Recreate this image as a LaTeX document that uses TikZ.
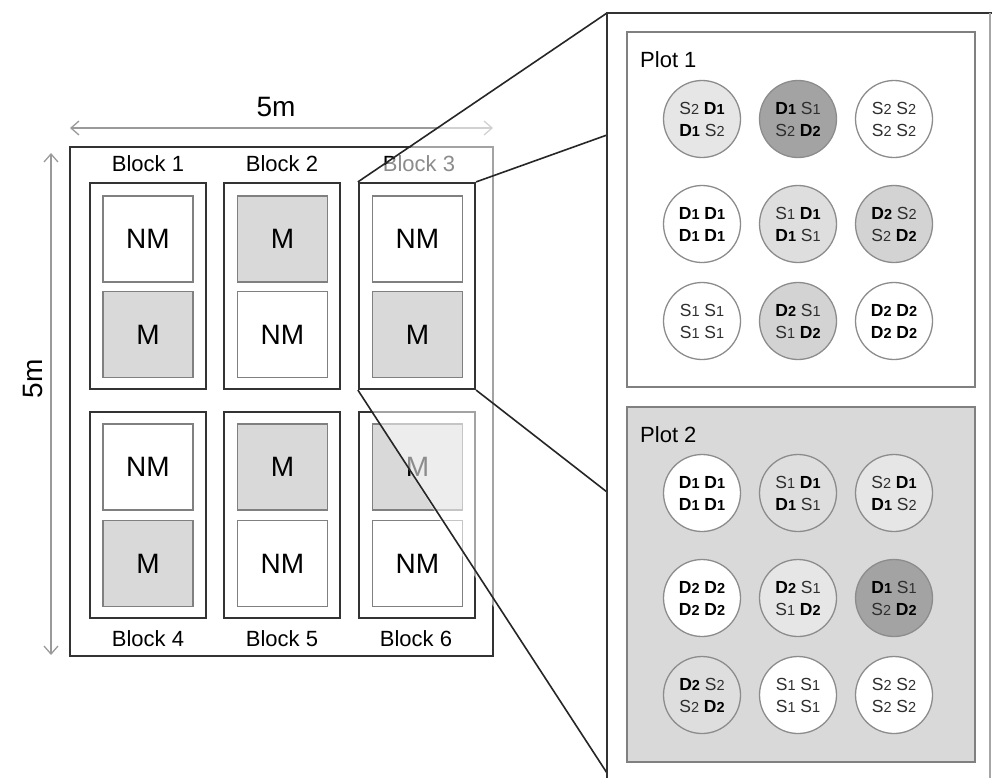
\documentclass[tikz,border=0pt]{standalone}
\usepackage{fontspec}
\setmainfont{Liberation Sans}
\usetikzlibrary{arrows.meta}
\definecolor{mgray}{HTML}{D9D9D9}
\definecolor{bdark}{HTML}{333333}
\definecolor{pgray}{HTML}{808080}
\definecolor{cgray}{HTML}{8C8C8C}
\definecolor{sgray}{HTML}{2E2E2E}
\definecolor{cwhite}{HTML}{FFFFFF}
\definecolor{clight}{HTML}{E6E6E6}
\definecolor{clmed}{HTML}{DEDEDE}
\definecolor{cmed}{HTML}{D3D3D3}
\definecolor{cdark}{HTML}{A3A3A3}
\definecolor{arrgray}{HTML}{9A9A9A}
\newcommand\sgeno[1]{\textcolor{sgray}{S{\fontsize{14.5}{14.5}\selectfont #1}}}
\newcommand\dgeno[1]{\textbf{D{\fontsize{14.5}{14.5}\selectfont\bfseries #1}}}
\begin{document}
\begin{tikzpicture}[x=1pt,y=-1pt,
  fieldbox/.style={draw=bdark, line width=2pt, minimum width=423pt, minimum height=509pt, inner sep=0pt},
  blockbox/.style={draw=bdark, line width=2.2pt, fill=white, minimum width=116pt, minimum height=206pt, inner sep=0pt},
  plotbase/.style={draw=pgray, line width=1.6pt, minimum width=90pt, minimum height=86pt, inner sep=0pt, font=\fontsize{28}{28}\selectfont},
  plotM/.style={plotbase, fill=mgray},
  plotNM/.style={plotbase, fill=white},
  blabel/.style={font=\fontsize{22}{22}\selectfont, inner sep=0pt},
  dimarrow/.style={draw=arrgray, line width=1.3pt, {Straight Barb[length=8pt,width=14pt]}-{Straight Barb[length=8pt,width=14pt]}},
  zoomline/.style={draw=black!85, line width=1.6pt},
  geno/.style={circle, draw=cgray, line width=1.3pt, minimum size=77pt, inner sep=0pt, align=center, font=\fontsize{17.5}{22}\selectfont},
  plotpanel/.style={draw=pgray, line width=1.6pt, minimum width=348pt, minimum height=355pt, inner sep=0pt},
  plabel/.style={font=\fontsize{22}{22}\selectfont, inner sep=0pt, anchor=west}
]
\useasboundingbox (0,0) rectangle (992,777);

% field
\node[fieldbox] (field) at (281.5,401.5) {};
\coordinate (hL) at (70,128);
\coordinate (hR) at (493,128);
\draw[dimarrow] (hL) -- (hR);
\node[font=\fontsize{28}{28}\selectfont, inner sep=0pt] (dimH) at (276,107) {5m};
\coordinate (vT) at (51,153);
\coordinate (vB) at (51,655);
\draw[dimarrow] (vT) -- (vB);
\node[font=\fontsize{28}{28}\selectfont, inner sep=0pt, rotate=90] (dimV) at (33,379) {5m};

% block labels
\node[blabel] (l1) at (148,164) {Block 1};
\node[blabel] (l2) at (282,164) {Block 2};
\node[blabel] (l3) at (419,164) {Block 3};
\node[blabel] (l4) at (148,639) {Block 4};
\node[blabel] (l5) at (282,639) {Block 5};
\node[blabel] (l6) at (416,639) {Block 6};

% blocks
\node[blockbox] (b1) at (148,286) {};
\node[plotNM] (b1u) at (148,239) {NM};
\node[plotM] (b1l) at (148,334.5) {M};
\node[blockbox] (b2) at (282,286) {};
\node[plotM] (b2u) at (282.5,239) {M};
\node[plotNM] (b2l) at (282.5,334.5) {NM};

\node[blockbox] (b4) at (148,515) {};
\node[plotNM] (b4u) at (148,467) {NM};
\node[plotM] (b4l) at (148,563.5) {M};
\node[blockbox] (b5) at (282,515) {};
\node[plotM] (b5u) at (282.5,467) {M};
\node[plotNM] (b5l) at (282.5,563.5) {NM};
\node[blockbox] (b6) at (417,515) {};
\node[plotM] (b6u) at (417.5,467) {M};
\node[plotNM] (b6l) at (417.5,563.5) {NM};

% panel corner points
\coordinate (pTL) at (607,13);
\coordinate (pA) at (607,135);
\coordinate (pB) at (607,492);
\coordinate (pC) at (607,773);
\coordinate (pBot) at (607,790);
\coordinate (pTR) at (995,13);

% fading overlay
\fill[white, opacity=0.55] (359,183) -- (pTL) -- (pBot) -- (359,389) -- cycle;

% block 3 on top
\node[blockbox] (b3) at (417,286) {};
\node[plotNM] (b3u) at (417.5,239) {NM};
\node[plotM] (b3l) at (417.5,334.5) {M};

% zoom lines
\draw[zoomline] (b3.north west) -- (pTL);
\draw[zoomline] (b3.north east) -- (pA);
\draw[zoomline] (b3.south east) -- (pB);
\draw[zoomline] (b3.south west) -- (pC);

% panel
\draw[draw=bdark, line width=2pt] (pBot) -- (pTL) -- (pTR);
\draw[draw=black!35, line width=1.5pt] (990,13) -- (990,790);

% plot 1
\node[plotpanel, fill=white] (plot1) at (801,209.5) {};
\node[plabel] (pl1) at (640,60) {Plot 1};
\node[geno, fill=clight] (a11) at (702,119) {\sgeno{2} \dgeno{1}\\\dgeno{1} \sgeno{2}};
\node[geno, fill=cdark]  (a12) at (798,119) {\dgeno{1} \sgeno{1}\\\sgeno{2} \dgeno{2}};
\node[geno, fill=cwhite] (a13) at (894,119) {\sgeno{2} \sgeno{2}\\\sgeno{2} \sgeno{2}};
\node[geno, fill=cwhite] (a21) at (702,224) {\dgeno{1} \dgeno{1}\\\dgeno{1} \dgeno{1}};
\node[geno, fill=clmed]  (a22) at (798,224) {\sgeno{1} \dgeno{1}\\\dgeno{1} \sgeno{1}};
\node[geno, fill=cmed]   (a23) at (894,224) {\dgeno{2} \sgeno{2}\\\sgeno{2} \dgeno{2}};
\node[geno, fill=cwhite] (a31) at (702,321) {\sgeno{1} \sgeno{1}\\\sgeno{1} \sgeno{1}};
\node[geno, fill=cmed]   (a32) at (798,321) {\dgeno{2} \sgeno{1}\\\sgeno{1} \dgeno{2}};
\node[geno, fill=cwhite] (a33) at (894,321) {\dgeno{2} \dgeno{2}\\\dgeno{2} \dgeno{2}};

% plot 2
\node[plotpanel, fill=mgray] (plot2) at (801,584.5) {};
\node[plabel] (pl2) at (640,435) {Plot 2};
\node[geno, fill=cwhite] (c11) at (702,493) {\dgeno{1} \dgeno{1}\\\dgeno{1} \dgeno{1}};
\node[geno, fill=clmed]  (c12) at (798,493) {\sgeno{1} \dgeno{1}\\\dgeno{1} \sgeno{1}};
\node[geno, fill=clight] (c13) at (894,493) {\sgeno{2} \dgeno{1}\\\dgeno{1} \sgeno{2}};
\node[geno, fill=cwhite] (c21) at (702,598) {\dgeno{2} \dgeno{2}\\\dgeno{2} \dgeno{2}};
\node[geno, fill=clight] (c22) at (798,598) {\dgeno{2} \sgeno{1}\\\sgeno{1} \dgeno{2}};
\node[geno, fill=cdark]  (c23) at (894,598) {\dgeno{1} \sgeno{1}\\\sgeno{2} \dgeno{2}};
\node[geno, fill=clmed]  (c31) at (702,695) {\dgeno{2} \sgeno{2}\\\sgeno{2} \dgeno{2}};
\node[geno, fill=cwhite] (c32) at (798,695) {\sgeno{1} \sgeno{1}\\\sgeno{1} \sgeno{1}};
\node[geno, fill=cwhite] (c33) at (894,695) {\sgeno{2} \sgeno{2}\\\sgeno{2} \sgeno{2}};
\end{tikzpicture}
\end{document}
